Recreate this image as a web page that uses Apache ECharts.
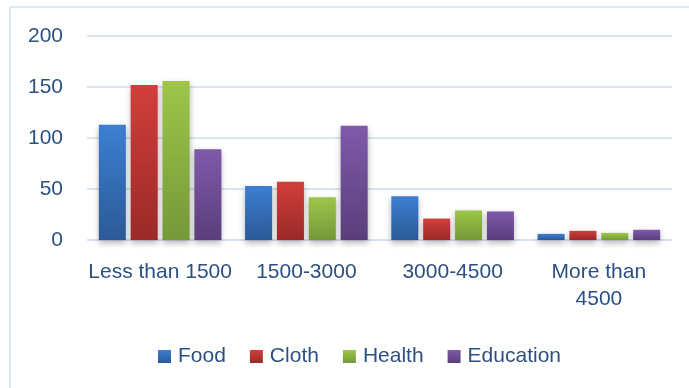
<!DOCTYPE html>
<html>
<head>
<meta charset="utf-8">
<script src="https://cdn.jsdelivr.net/npm/echarts@6/dist/echarts.min.js"></script>
<style>
  html, body { margin: 0; padding: 0; background: #fff; }
  #chart { width: 689px; height: 388px; }
</style>
</head>
<body>
<div id="chart"></div>
<script>
// Monthly spending by income bracket
const categories = ['Less than 1500', '1500-3000', '3000-4500', 'More than\n4500'];
const food      = [113, 53, 43, 6];
const cloth     = [152, 57, 21, 9];
const health    = [156, 42, 29, 7];
const education = [89, 112, 28, 10];
const yTicks = { min: 0, max: 200, interval: 50 };

const textColor = '#2d5083';
const fontFamily = '"Liberation Sans", Arial, sans-serif';

function grad(top, bottom) {
  return new echarts.graphic.LinearGradient(0, 0, 0, 1, [
    { offset: 0, color: top },
    { offset: 1, color: bottom }
  ]);
}

function barSeries(name, data, top, bottom) {
  return {
    name: name,
    type: 'bar',
    data: data,
    barWidth: 27,
    barGap: '18%',
    itemStyle: {
      color: grad(top, bottom),
      shadowColor: 'rgba(0,0,0,0.3)',
      shadowBlur: 6,
      shadowOffsetY: 3
    }
  };
}

const chart = echarts.init(document.getElementById('chart'), null, { renderer: 'canvas' });
chart.setOption({
  animation: false,
  backgroundColor: '#ffffff',
  textStyle: { fontFamily: fontFamily },
  graphic: [{
    type: 'rect',
    shape: { x: 10, y: 7, width: 700, height: 400 },
    style: { fill: 'none', stroke: '#d6e2f0', lineWidth: 1.5 },
    silent: true
  }],
  grid: { left: 87, right: 17, top: 36, bottom: 148 },
  legend: {
    top: 341,
    left: 153,
    itemWidth: 13,
    itemHeight: 13,
    itemGap: 24,
    icon: 'rect',
    textStyle: { color: textColor, fontSize: 21, fontFamily: fontFamily, padding: [0, 0, 0, 2] },
    data: ['Food', 'Cloth', 'Health', 'Education']
  },
  xAxis: {
    type: 'category',
    data: categories,
    axisLine: { show: false },
    axisTick: { show: false },
    axisLabel: {
      color: textColor,
      fontSize: 21,
      fontFamily: fontFamily,
      margin: 19,
      lineHeight: 27,
      interval: 0
    }
  },
  yAxis: {
    type: 'value',
    min: yTicks.min,
    max: yTicks.max,
    interval: yTicks.interval,
    axisLine: { show: false },
    axisTick: { show: false },
    axisLabel: { color: textColor, fontSize: 21, fontFamily: fontFamily, margin: 24 },
    splitLine: { lineStyle: { color: '#d9e4f2', width: 2 } }
  },
  series: [
    barSeries('Food', food, '#3c7fd2', '#2b5a96'),
    barSeries('Cloth', cloth, '#d23e3b', '#9a2a28'),
    barSeries('Health', health, '#9dc649', '#759839'),
    barSeries('Education', education, '#7f5aab', '#5a3e7b')
  ]
});
</script>
</body>
</html>
